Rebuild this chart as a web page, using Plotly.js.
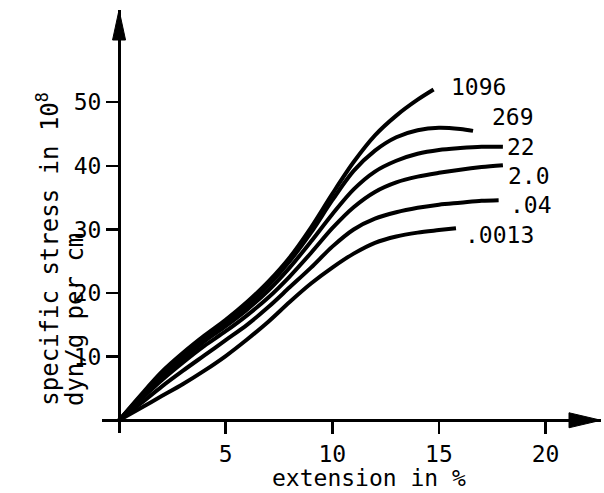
<!DOCTYPE html>
<html>
<head>
<meta charset="utf-8">
<script src="https://cdn.plot.ly/plotly-3.0.1.min.js"></script>
<style>
  html, body { margin: 0; padding: 0; background: #fff; }
  #chart { width: 604px; height: 493px; }
</style>
</head>
<body>
<div id="chart"></div>
<script>
// ---- data ----
const seriesNames = ['1096', '269', '22', '2.0', '.04', '.0013'];

const x1096 = [0, 1, 2, 3, 4, 5, 6, 7, 8, 9, 10, 11, 12, 13, 14, 14.75];
const y1096 = [0, 3.9, 7.6, 10.6, 13.3, 15.8, 18.6, 21.8, 25.6, 30.3, 35.6, 40.6, 44.8, 47.9, 50.4, 52.0];

const x269 = [0, 1, 2, 3, 4, 5, 6, 7, 8, 9, 10, 11, 12, 13, 14, 15, 16, 16.6];
const y269 = [0, 3.7, 7.2, 10.2, 12.9, 15.3, 18.0, 21.2, 25.0, 29.5, 34.6, 39.2, 42.4, 44.5, 45.6, 46.0, 45.8, 45.5];

const x22 = [0, 1, 2, 3, 4, 5, 6, 7, 8, 9, 10, 11, 12, 13, 14, 15, 16, 17, 18];
const y22 = [0, 3.5, 6.8, 9.7, 12.4, 14.8, 17.4, 20.4, 24.0, 28.1, 32.4, 36.3, 39.1, 40.8, 41.9, 42.5, 42.8, 43.0, 43.0];

const x2 = [0, 1, 2, 3, 4, 5, 6, 7, 8, 9, 10, 11, 12, 13, 14, 15, 16, 17, 18];
const y2 = [0, 3.2, 6.3, 9.1, 11.7, 14.0, 16.5, 19.3, 22.6, 26.3, 30.2, 33.5, 35.9, 37.4, 38.3, 38.9, 39.4, 39.8, 40.1];

const x04 = [0, 1, 2, 3, 4, 5, 6, 7, 8, 9, 10, 11, 12, 13, 14, 15, 16, 17, 17.8];
const y04 = [0, 2.6, 5.3, 7.8, 10.2, 12.6, 15.0, 17.8, 20.9, 24.0, 27.3, 30.0, 31.7, 32.7, 33.4, 33.9, 34.2, 34.5, 34.6];

const x0013 = [0, 1, 2, 3, 4, 5, 6, 7, 8, 9, 10, 11, 12, 13, 14, 15, 15.8];
const y0013 = [0, 1.9, 3.8, 5.7, 7.8, 10.1, 12.7, 15.5, 18.6, 21.5, 24.0, 26.2, 27.9, 28.9, 29.5, 29.9, 30.2];

const xTickVals = [5, 10, 15, 20];
const xTickText = ['5', '10', '15', '20'];
const yTickVals = [10, 20, 30, 40, 50];
const yTickText = ['10', '20', '30', '40', '50'];

const xTitle = 'extension in %';
const yTitleLine1 = 'specific stress in 10<sup>8</sup>';
const yTitleLine2 = 'dyn/g per cm';

// ---- styling (separate from data) ----
const FONT = 'DejaVu Sans Mono, monospace';
const xRange = [-0.8, 22.6];
const yRange = [-2, 64.5];
// label offsets in pixels from each curve's end point
const labelShift = [[15, 3], [17, 14], [2, 0], [3, -11], [9, -5], [7, -7]];

const xs = [x1096, x269, x22, x2, x04, x0013];
const ys = [y1096, y269, y22, y2, y04, y0013];

const traces = xs.map((xv, i) => ({
  type: 'scatter',
  mode: 'lines',
  x: xv,
  y: ys[i],
  name: seriesNames[i],
  line: { color: '#000', width: 4, shape: 'spline', smoothing: 0.9 },
  hoverinfo: 'skip',
  showlegend: false
}));

const annotations = xs.map((xv, i) => ({
  x: xv[xv.length - 1],
  y: ys[i][ys[i].length - 1],
  xref: 'x', yref: 'y',
  text: seriesNames[i],
  showarrow: false,
  xanchor: 'left', yanchor: 'middle',
  xshift: labelShift[i][0], yshift: labelShift[i][1],
  font: { family: FONT, size: 23, color: '#000' }
}));

annotations.push({
  xref: 'paper', yref: 'paper', x: 0.536, y: -0.106,
  text: xTitle, showarrow: false, xanchor: 'center', yanchor: 'middle',
  font: { family: FONT, size: 23, color: '#000' }
});
annotations.push({
  xref: 'paper', yref: 'paper', x: -0.109, y: 0.059,
  text: yTitleLine1, showarrow: false, textangle: -90,
  xanchor: 'center', yanchor: 'bottom',
  font: { family: FONT, size: 24, color: '#000' }
});
annotations.push({
  xref: 'paper', yref: 'paper', x: -0.055, y: 0.059,
  text: yTitleLine2, showarrow: false, textangle: -90,
  xanchor: 'center', yanchor: 'bottom',
  font: { family: FONT, size: 24, color: '#000' }
});

const xPos = (0 - yRange[0]) / (yRange[1] - yRange[0]);
const yPos = (0 - xRange[0]) / (xRange[1] - xRange[0]);

const shapes = [
  { // arrow head on the y axis
    type: 'path', xref: 'x', yref: 'y',
    xsizemode: 'pixel', ysizemode: 'pixel',
    xanchor: 0, yanchor: yRange[1],
    path: 'M0,0 L-6.5,-30 L6.5,-30 Z',
    fillcolor: '#000', line: { color: '#000', width: 1 }
  },
  { // arrow head on the x axis
    type: 'path', xref: 'x', yref: 'y',
    xsizemode: 'pixel', ysizemode: 'pixel',
    xanchor: xRange[1], yanchor: 0,
    path: 'M0,0 L-32,7.5 L-32,-7.5 Z',
    fillcolor: '#000', line: { color: '#000', width: 1 }
  }
];

const layout = {
  width: 604, height: 493,
  margin: { l: 102, r: 3, t: 10, b: 60 },
  paper_bgcolor: '#fff', plot_bgcolor: '#fff',
  showlegend: false,
  font: { family: FONT, size: 23, color: '#000' },
  xaxis: {
    range: xRange, anchor: 'free', position: xPos,
    showline: true, linecolor: '#000', linewidth: 3,
    showgrid: false, zeroline: false,
    ticks: 'outside', ticklen: 12, tickwidth: 2.5, tickcolor: '#000',
    tickmode: 'array', tickvals: xTickVals, ticktext: xTickText,
    tickfont: { family: FONT, size: 23, color: '#000' }
  },
  yaxis: {
    range: yRange, anchor: 'free', position: yPos,
    showline: true, linecolor: '#000', linewidth: 3,
    showgrid: false, zeroline: false,
    ticks: 'outside', ticklen: 12, tickwidth: 2.5, tickcolor: '#000',
    tickmode: 'array', tickvals: yTickVals, ticktext: yTickText,
    tickfont: { family: FONT, size: 23, color: '#000' }
  },
  annotations: annotations,
  shapes: shapes
};

Plotly.newPlot('chart', traces, layout, { staticPlot: true, displayModeBar: false });
</script>
</body>
</html>
